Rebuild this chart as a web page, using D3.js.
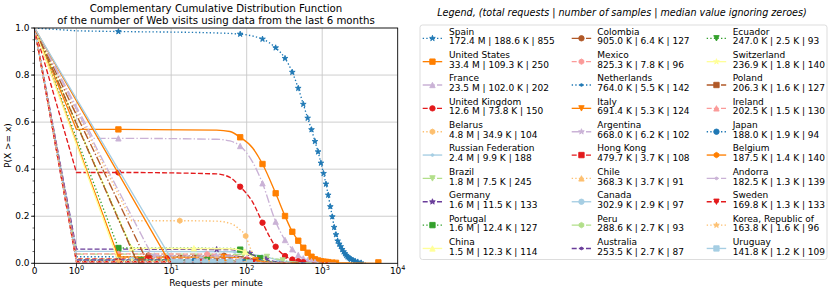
<!DOCTYPE html>
<html>
<head>
<meta charset="utf-8">
<script src="https://cdn.jsdelivr.net/npm/d3@7"></script>
<style>
  body { margin: 0; background: #fff; }
  svg { font-family: "DejaVu Sans", sans-serif; }
</style>
</head>
<body>
<div id="chart"></div>
<script>
// ---- data ----
var countries = ["Spain", "United States", "France", "United Kingdom", "Belarus",
  "Russian Federation", "Brazil", "Germany", "Portugal", "China",
  "Colombia", "Mexico", "Netherlands", "Italy", "Argentina",
  "Hong Kong", "Chile", "Canada", "Peru", "Australia",
  "Ecuador", "Switzerland", "Poland", "Ireland", "Japan",
  "Belgium", "Andorra", "Sweden", "Korea, Republic of", "Uruguay"];

var totalRequests = ["172.4 M", "33.4 M", "23.5 M", "12.6 M", "4.8 M",
  "2.4 M", "1.8 M", "1.6 M", "1.6 M", "1.5 M",
  "905.0 K", "825.3 K", "764.0 K", "691.4 K", "668.0 K",
  "479.7 K", "368.3 K", "302.9 K", "288.6 K", "253.5 K",
  "247.0 K", "236.9 K", "206.3 K", "202.5 K", "188.0 K",
  "187.5 K", "182.5 K", "169.8 K", "163.8 K", "141.8 K"];

var sampleCounts = ["188.6 K", "109.3 K", "102.0 K", "73.8 K", "34.9 K",
  "9.9 K", "7.5 K", "11.5 K", "12.4 K", "12.3 K",
  "6.4 K", "7.8 K", "5.5 K", "5.3 K", "6.2 K",
  "3.7 K", "3.7 K", "2.9 K", "2.7 K", "2.7 K",
  "2.5 K", "1.8 K", "1.6 K", "1.5 K", "1.9 K",
  "1.4 K", "1.3 K", "1.3 K", "1.6 K", "1.2 K"];

var medians = [855, 250, 202, 150, 104, 188, 245, 133, 127, 114,
  127, 96, 142, 124, 102, 108, 91, 97, 93, 87,
  93, 140, 127, 130, 94, 140, 139, 133, 96, 109];

// CCDF curves, [requests per minute, P(X >= x)]
var curvePoints = [
  [[0,1],[1,0.988],[2,0.985],[30,0.98],[82,0.974],[120,0.966],[162,0.953],[242,0.916],[322,0.871],[402,0.812],[482,0.744],[562,0.676],[642,0.617],[722,0.568],[802,0.518],[882,0.474],[962,0.426],[1042,0.382],[1122,0.337],[1202,0.29],[1282,0.241],[1362,0.198],[1442,0.153],[1522,0.122],[1602,0.095],[1762,0.071],[1922,0.049],[2082,0.034],[2322,0.02],[2722,0.01],[3282,0.002],[3800,0]],
  [[0,1],[1,0.569],[2,0.569],[40,0.566],[60,0.56],[82,0.5355],[120,0.49],[162,0.422],[242,0.2975],[322,0.201],[402,0.134],[482,0.096],[562,0.066],[642,0.045],[722,0.028],[802,0.017],[962,0.009],[1200,0.005],[1600,0.002],[2500,0.001],[5546,0]],
  [[0,1],[1.4,0.531],[2,0.531],[40,0.527],[60,0.52],[82,0.4985],[120,0.43],[162,0.34],[242,0.177],[322,0.099],[402,0.06],[482,0.035],[562,0.021],[642,0.013],[802,0.006],[1100,0.002],[1600,0]],
  [[0,1],[1,0.386],[2,0.386],[40,0.38],[60,0.365],[82,0.3255],[120,0.26],[162,0.1725],[242,0.0705],[322,0.031],[402,0.016],[482,0.009],[562,0.005],[800,0.002],[1200,0]],
  [[0,1],[3,0.181],[13,0.181],[40,0.179],[60,0.17],[80,0.145],[97,0.116],[110,0.07],[125,0.03],[137,0.007],[170,0.001],[220,0]],
  [[0,1],[1,0.051],[2,0.051],[60,0.049],[120,0.038],[188,0.025],[300,0.01],[500,0.003],[900,0]],
  [[0,1],[1,0.039],[2,0.039],[80,0.038],[160,0.03],[245,0.019],[400,0.006],[700,0.001],[1000,0]],
  [[0,1],[1,0.06],[2,0.06],[60,0.058],[100,0.045],[133,0.03],[200,0.012],[350,0.003],[600,0]],
  [[0,1],[2,0.065],[60,0.063],[90,0.056],[127,0.032],[180,0.012],[300,0.002],[500,0]],
  [[0,1],[3,0.064],[60,0.062],[85,0.055],[114,0.032],[160,0.012],[260,0.002],[450,0]],
  [[0,1],[4.4,0.033],[60,0.032],[90,0.027],[127,0.017],[190,0.006],[320,0.001],[500,0]],
  [[0,1],[1,0.04],[2,0.04],[50,0.038],[96,0.02],[150,0.007],[260,0.001],[400,0]],
  [[0,1],[1,0.028],[2,0.028],[70,0.027],[142,0.014],[220,0.005],[400,0.001],[600,0]],
  [[0,1],[2,0.027],[60,0.026],[124,0.014],[200,0.004],[350,0.001],[500,0]],
  [[0,1],[5.6,0.032],[60,0.031],[102,0.016],[160,0.005],[280,0.001],[400,0]],
  [[0,1],[1,0.019],[2,0.019],[60,0.018],[108,0.01],[170,0.003],[300,0]],
  [[0,1],[1,0.019],[2,0.019],[50,0.018],[91,0.01],[150,0.003],[250,0]],
  [[0,1],[1,0.015],[2,0.015],[50,0.014],[97,0.008],[160,0.002],[260,0]],
  [[0,1],[1,0.014],[2,0.014],[50,0.0135],[93,0.007],[150,0.002],[250,0]],
  [[0,1],[1,0.014],[2,0.014],[50,0.013],[87,0.007],[150,0.002],[250,0]],
  [[0,1],[3.5,0.013],[50,0.0125],[93,0.0065],[150,0.002],[250,0]],
  [[0,1],[2,0.0093],[70,0.009],[140,0.0047],[220,0.001],[350,0]],
  [[0,1],[3.5,0.0083],[70,0.008],[127,0.0042],[200,0.001],[320,0]],
  [[0,1],[1,0.0078],[2,0.0078],[70,0.0075],[130,0.0039],[200,0.001],[320,0]],
  [[0,1],[1,0.0098],[2,0.0098],[50,0.0095],[94,0.005],[150,0.0015],[250,0]],
  [[0,1],[9.4,0.0073],[70,0.007],[140,0.0037],[220,0.001],[350,0]],
  [[0,1],[1,0.0067],[2,0.0067],[70,0.0065],[139,0.0034],[220,0.001],[350,0]],
  [[0,1],[1,0.0067],[2,0.0067],[70,0.0064],[133,0.0034],[210,0.001],[330,0]],
  [[0,1],[1,0.0083],[2,0.0083],[50,0.008],[96,0.0042],[160,0.001],[260,0]],
  [[0,1],[10.6,0.0062],[60,0.006],[109,0.0031],[180,0.001],[300,0]]
];

// where the markers sit on each curve
var markerPoints = [
  [[2,0.985],[82,0.974],[162,0.953],[242,0.916],[322,0.871],[402,0.812],[482,0.744],[562,0.676],[642,0.617],[722,0.568],[802,0.518],[882,0.474],[962,0.426],[1042,0.382],[1122,0.337],[1202,0.29],[1282,0.241],[1362,0.198],[1442,0.153],[1522,0.122],[1602,0.095],[1682,0.082],[1762,0.071],[1842,0.059],[1922,0.049],[2002,0.041],[2082,0.034],[2162,0.028],[2242,0.024],[2322,0.02],[2402,0.017],[2562,0.013],[2722,0.01],[2962,0.006],[3282,0.002]],
  [[2,0.569],[82,0.5355],[162,0.422],[242,0.2975],[322,0.201],[402,0.134],[482,0.096],[562,0.066],[642,0.045],[722,0.028],[802,0.017],[882,0.012],[962,0.009],[1042,0.007],[1122,0.006],[1202,0.005],[1362,0.003],[1522,0.002],[5546,0.004]],
  [[2,0.531],[82,0.4985],[162,0.34],[242,0.177],[322,0.099],[402,0.06],[482,0.035],[562,0.021],[642,0.013],[722,0.009],[802,0.006]],
  [[2,0.386],[82,0.3255],[162,0.1725],[242,0.0705],[322,0.031],[402,0.016],[482,0.009],[562,0.005]],
  [[13,0.181],[97,0.116]],
  [[2,0.051],[70,0.048],[160,0.03],[260,0.013]],
  [[2,0.039],[90,0.037],[185,0.027],[300,0.012]],
  [[2,0.06],[40,0.059],[110,0.042],[180,0.017]],
  [[2,0.065],[82,0.058],[150,0.022]],
  [[3,0.064],[20,0.064],[95,0.05],[170,0.01]],
  [[5,0.033],[50,0.032],[140,0.014]],
  [[2,0.04],[30,0.039],[100,0.019]],
  [[2,0.028],[60,0.027],[150,0.013]],
  [[2,0.027],[50,0.026],[130,0.012]],
  [[6,0.032],[40,0.031],[110,0.013]],
  [[5,0.019],[9,0.019],[100,0.011]],
  [[3,0.019],[40,0.018],[100,0.008]],
  [[3,0.015],[25,0.015],[110,0.006]],
  [[2,0.014],[30,0.014],[95,0.007]],
  [[2,0.014],[20,0.014],[80,0.008]],
  [[4,0.013],[30,0.013],[100,0.006]],
  [[3,0.0093],[40,0.0092],[140,0.0047]],
  [[4,0.0083],[40,0.0082],[130,0.004]],
  [[2,0.0078],[30,0.0078],[120,0.0045]],
  [[2,0.0098],[20,0.0098],[90,0.0052]],
  [[11,0.0073],[50,0.0072],[140,0.0037]],
  [[2,0.0067],[30,0.0067],[130,0.0038]],
  [[2,0.0067],[25,0.0067],[120,0.004]],
  [[2,0.0083],[30,0.0083],[100,0.004]],
  [[11,0.0062],[13,0.0062],[17,0.0062],[22,0.0062],[28,0.0062],[36,0.0061],[46,0.0061],[60,0.006],[80,0.0052],[110,0.003]]
];

var xTicks = [0, 1, 10, 100, 1000, 10000];
var xTickExp = ["", "0", "1", "2", "3", "4"];
var yTicks = [0, 0.2, 0.4, 0.6, 0.8, 1.0];

// ---- styles (cycled like matplotlib) ----
var palette = ["#1f78b4", "#ff7f00", "#cab2d6", "#e31a1c", "#fdbf6f", "#a6cee3",
  "#b2df8a", "#6a3d9a", "#33a02c", "#ffff99", "#b15928", "#fb9a99"];
var lineStyles = [":", "-", "-.", "--"];
var markerTypes = ["*", "s", "^", "o", "h", ".", "v"];

var vWidth = 830, vHeight = 293;
var plot = {left: 34.5, right: 397.7, top: 28, bottom: 263.3};
var lw = 1.35, ms = 5.4;

var svg = d3.select("#chart").append("svg")
  .attr("width", vWidth).attr("height", vHeight);

// matplotlib style symlog (linthresh 2, linscale 1)
function symlog(v) {
  var L = 2, a = 1 / (1 - 1 / 10);
  var av = Math.abs(v);
  if (av <= L) return v * a;
  return Math.sign(v) * L * (a + Math.log10(av / L));
}
var xLin = d3.scaleLinear().domain([symlog(0), symlog(10000)]).range([plot.left, plot.right]);
var x = function (v) { return xLin(symlog(v)); };
var y = d3.scaleLinear().domain([0, 1]).range([plot.bottom, plot.top]);

function dashFor(style) {
  if (style === ":") return [1 * lw, 1.65 * lw].join(",");
  if (style === "--") return [3.7 * lw, 1.6 * lw].join(",");
  if (style === "-.") return [6.4 * lw, 1.6 * lw, 1 * lw, 1.6 * lw].join(",");
  return null;
}

function markerPath(type, size) {
  var r = size / 2, p = [], i, ang;
  if (type === "o" || type === ".") {
    var rr = type === "." ? r / 2 : r;
    return "M" + rr + ",0A" + rr + "," + rr + " 0 1,1 " + (-rr) + ",0A" + rr + "," + rr + " 0 1,1 " + rr + ",0Z";
  }
  if (type === "s") return "M" + (-r) + "," + (-r) + "H" + r + "V" + r + "H" + (-r) + "Z";
  if (type === "^") return "M0," + (-r) + "L" + r + "," + r + "L" + (-r) + "," + r + "Z";
  if (type === "v") return "M0," + r + "L" + r + "," + (-r) + "L" + (-r) + "," + (-r) + "Z";
  if (type === "*") {
    for (i = 0; i < 10; i++) {
      ang = -Math.PI / 2 + i * Math.PI / 5;
      var rad = i % 2 === 0 ? r * 1.1 : r * 1.1 * 0.381966;
      p.push([rad * Math.cos(ang), rad * Math.sin(ang)]);
    }
    return "M" + p.join("L") + "Z";
  }
  if (type === "h") {
    for (i = 0; i < 6; i++) {
      ang = -Math.PI / 2 + i * Math.PI / 3;
      p.push([r * Math.cos(ang), r * Math.sin(ang)]);
    }
    return "M" + p.join("L") + "Z";
  }
  return "";
}

// clip to axes
svg.append("defs").append("clipPath").attr("id", "plotclip")
  .append("rect").attr("x", plot.left).attr("y", plot.top)
  .attr("width", plot.right - plot.left).attr("height", plot.bottom - plot.top);

// grid
var grid = svg.append("g").attr("stroke", "#c8c8c8").attr("stroke-width", 0.9);
xTicks.forEach(function (t) {
  grid.append("line").attr("x1", x(t)).attr("x2", x(t)).attr("y1", plot.top).attr("y2", plot.bottom);
});
yTicks.forEach(function (t) {
  grid.append("line").attr("x1", plot.left).attr("x2", plot.right).attr("y1", y(t)).attr("y2", y(t));
});

// curves
var curve = d3.line().x(function (d) { return x(d[0]); }).y(function (d) { return y(d[1]); })
  .curve(d3.curveMonotoneX);

var series = svg.append("g").attr("clip-path", "url(#plotclip)");
countries.forEach(function (name, i) {
  var col = palette[i % 12];
  var pts = curvePoints[i];
  var d = "M" + x(pts[0][0]) + "," + y(pts[0][1]) + curve(pts.slice(1)).replace(/^M/, "L");
  series.append("path")
    .attr("d", d)
    .attr("fill", "none")
    .attr("stroke", col)
    .attr("stroke-width", lw)
    .attr("stroke-dasharray", dashFor(lineStyles[i % 4]));
  var mt = markerTypes[i % 7];
  series.selectAll(".m" + i).data(markerPoints[i]).enter().append("path")
    .attr("class", "m" + i)
    .attr("d", markerPath(mt, ms))
    .attr("transform", function (p) { return "translate(" + x(p[0]) + "," + y(p[1]) + ")"; })
    .attr("fill", col).attr("stroke", col).attr("stroke-width", 0.9);
});

// frame
svg.append("rect").attr("x", plot.left).attr("y", plot.top)
  .attr("width", plot.right - plot.left).attr("height", plot.bottom - plot.top)
  .attr("fill", "none").attr("stroke", "#000").attr("stroke-width", 0.8);

// y axis
var yAxis = svg.append("g").attr("font-size", 9);
d3.range(0, 1.0001, 0.05).forEach(function (t) {
  yAxis.append("line").attr("x1", plot.left).attr("x2", plot.left - 2)
    .attr("y1", y(t)).attr("y2", y(t)).attr("stroke", "#000").attr("stroke-width", 0.6);
});
yTicks.forEach(function (t) {
  yAxis.append("line").attr("x1", plot.left).attr("x2", plot.left - 3.5)
    .attr("y1", y(t)).attr("y2", y(t)).attr("stroke", "#000").attr("stroke-width", 0.8);
  yAxis.append("text").attr("x", plot.left - 5).attr("y", y(t)).attr("dy", "0.35em")
    .attr("text-anchor", "end").text(d3.format(".1f")(t));
});

// x axis
var xAxis = svg.append("g").attr("font-size", 9);
xTicks.forEach(function (t, i) {
  xAxis.append("line").attr("x1", x(t)).attr("x2", x(t))
    .attr("y1", plot.bottom).attr("y2", plot.bottom + 3.5).attr("stroke", "#000").attr("stroke-width", 0.8);
  var tx = xAxis.append("text").attr("x", x(t)).attr("y", 273.5).attr("text-anchor", "middle");
  if (t === 0) {
    tx.text("0");
  } else {
    tx.append("tspan").text("10");
    tx.append("tspan").attr("font-size", 6.5).attr("dy", -4).text(xTickExp[i]);
  }
});

svg.append("text").attr("x", (plot.left + plot.right) / 2).attr("y", 286)
  .attr("text-anchor", "middle").attr("font-size", 9).text("Requests per minute");

svg.append("text")
  .attr("transform", "translate(11," + ((plot.top + plot.bottom) / 2) + ") rotate(-90)")
  .attr("text-anchor", "middle").attr("font-size", 9).text("P(X >= x)");

// title
var title = svg.append("g").attr("font-size", 10.2).attr("text-anchor", "middle");
title.append("text").attr("x", 216).attr("y", 11.5).text("Complementary Cumulative Distribution Function");
title.append("text").attr("x", 216).attr("y", 23.5).text("of the number of Web visits using data from the last 6 months");

// legend
svg.append("text").attr("x", 622).attr("y", 15.5).attr("text-anchor", "middle")
  .attr("font-size", 9.6).attr("font-style", "italic")
  .text("Legend, (total requests | number of samples | median value ignoring zeroes)");

svg.append("rect").attr("x", 420).attr("y", 25).attr("width", 407).attr("height", 234.5)
  .attr("rx", 2.5).attr("fill", "#fff").attr("stroke", "#d9d9d9").attr("stroke-width", 0.9);

var colX = [422.7, 571.7, 706.7];
var textX = [449, 597.3, 732.7];
var legend = svg.append("g").attr("font-size", 9);
countries.forEach(function (name, i) {
  var c = Math.floor(i / 10), r = i % 10;
  var base = 34.7 + r * 23.35;
  var hy = base + 3.6;
  var col = palette[i % 12];
  legend.append("line").attr("x1", colX[c]).attr("x2", colX[c] + 19.5)
    .attr("y1", hy).attr("y2", hy)
    .attr("stroke", col).attr("stroke-width", lw)
    .attr("stroke-dasharray", dashFor(lineStyles[i % 4]));
  legend.append("path").attr("d", markerPath(markerTypes[i % 7], ms))
    .attr("transform", "translate(" + (colX[c] + 9.75) + "," + hy + ")")
    .attr("fill", col).attr("stroke", col).attr("stroke-width", 0.9);
  legend.append("text").attr("x", textX[c]).attr("y", base).text(name);
  legend.append("text").attr("x", textX[c]).attr("y", base + 9.7)
    .text(totalRequests[i] + " | " + sampleCounts[i] + " | " + medians[i]);
});
</script>
</body>
</html>
